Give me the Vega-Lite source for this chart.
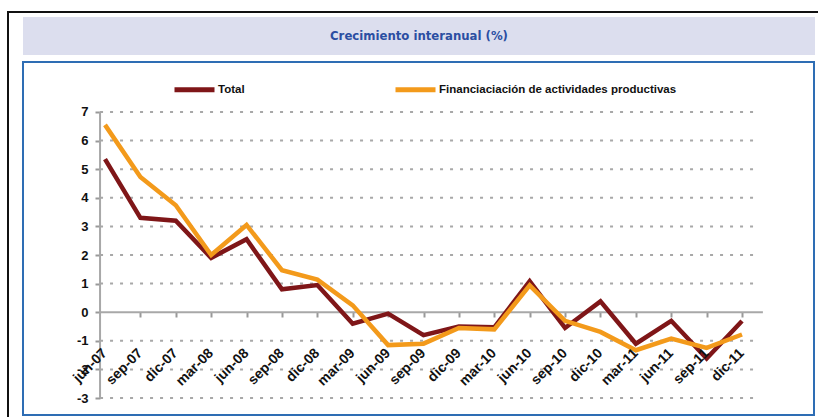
{
  "$schema": "https://vega.github.io/schema/vega-lite/v6.json",
  "padding": {"left": 7, "top": 11, "right": 0, "bottom": 0},
  "background": "white",
  "config": {
    "view": {"stroke": null},
    "font": "Liberation Sans",
    "axis": {"ticks": true, "tickSize": 5, "tickWidth": 2, "tickColor": "#999999", "domain": false, "grid": false, "title": null, "labelOverlap": false, "labelSeparation": 0},
    "axisY": {"labelFont": "Liberation Sans", "labelFontWeight": "bold", "labelFontSize": 13, "labelColor": "#111111", "labelPadding": 7}
  },
  "datasets": {
    "main": [
      {"period": "jun-07", "idx": 0, "serie": "Total", "v": 5.35},
      {"period": "sep-07", "idx": 1, "serie": "Total", "v": 3.3},
      {"period": "dic-07", "idx": 2, "serie": "Total", "v": 3.2},
      {"period": "mar-08", "idx": 3, "serie": "Total", "v": 1.9},
      {"period": "jun-08", "idx": 4, "serie": "Total", "v": 2.55},
      {"period": "sep-08", "idx": 5, "serie": "Total", "v": 0.8},
      {"period": "dic-08", "idx": 6, "serie": "Total", "v": 0.95},
      {"period": "mar-09", "idx": 7, "serie": "Total", "v": -0.4},
      {"period": "jun-09", "idx": 8, "serie": "Total", "v": -0.05},
      {"period": "sep-09", "idx": 9, "serie": "Total", "v": -0.8},
      {"period": "dic-09", "idx": 10, "serie": "Total", "v": -0.5},
      {"period": "mar-10", "idx": 11, "serie": "Total", "v": -0.53},
      {"period": "jun-10", "idx": 12, "serie": "Total", "v": 1.08},
      {"period": "sep-10", "idx": 13, "serie": "Total", "v": -0.55},
      {"period": "dic-10", "idx": 14, "serie": "Total", "v": 0.38},
      {"period": "mar-11", "idx": 15, "serie": "Total", "v": -1.1},
      {"period": "jun-11", "idx": 16, "serie": "Total", "v": -0.3},
      {"period": "sep-11", "idx": 17, "serie": "Total", "v": -1.62},
      {"period": "dic-11", "idx": 18, "serie": "Total", "v": -0.31},
      {"period": "jun-07", "idx": 0, "serie": "Financiaciación de actividades productivas", "v": 6.55},
      {"period": "sep-07", "idx": 1, "serie": "Financiaciación de actividades productivas", "v": 4.73},
      {"period": "dic-07", "idx": 2, "serie": "Financiaciación de actividades productivas", "v": 3.74},
      {"period": "mar-08", "idx": 3, "serie": "Financiaciación de actividades productivas", "v": 2.0},
      {"period": "jun-08", "idx": 4, "serie": "Financiaciación de actividades productivas", "v": 3.05},
      {"period": "sep-08", "idx": 5, "serie": "Financiaciación de actividades productivas", "v": 1.47},
      {"period": "dic-08", "idx": 6, "serie": "Financiaciación de actividades productivas", "v": 1.14},
      {"period": "mar-09", "idx": 7, "serie": "Financiaciación de actividades productivas", "v": 0.24},
      {"period": "jun-09", "idx": 8, "serie": "Financiaciación de actividades productivas", "v": -1.15},
      {"period": "sep-09", "idx": 9, "serie": "Financiaciación de actividades productivas", "v": -1.1},
      {"period": "dic-09", "idx": 10, "serie": "Financiaciación de actividades productivas", "v": -0.55},
      {"period": "mar-10", "idx": 11, "serie": "Financiaciación de actividades productivas", "v": -0.6},
      {"period": "jun-10", "idx": 12, "serie": "Financiaciación de actividades productivas", "v": 0.94},
      {"period": "sep-10", "idx": 13, "serie": "Financiaciación de actividades productivas", "v": -0.3},
      {"period": "dic-10", "idx": 14, "serie": "Financiaciación de actividades productivas", "v": -0.69},
      {"period": "mar-11", "idx": 15, "serie": "Financiaciación de actividades productivas", "v": -1.33},
      {"period": "jun-11", "idx": 16, "serie": "Financiaciación de actividades productivas", "v": -0.92},
      {"period": "sep-11", "idx": 17, "serie": "Financiaciación de actividades productivas", "v": -1.25},
      {"period": "dic-11", "idx": 18, "serie": "Financiaciación de actividades productivas", "v": -0.78}
    ],
    "grid": [
      {"g": -3}, {"g": -2}, {"g": -1}, {"g": 1}, {"g": 2},
      {"g": 3}, {"g": 4}, {"g": 5}, {"g": 6}, {"g": 7}
    ],
    "title": [{"t": "Crecimiento interanual (%)"}],
    "one": [{"b": 0}],
    "none": []
  },
  "vconcat": [
    {
      "width": 811,
      "height": 2,
      "view": {"fill": "#111111", "stroke": null},
      "data": {"name": "none"},
      "mark": "point"
    },
    {
      "hconcat": [
        {
          "width": 2,
          "height": 404,
          "view": {"fill": "#111111", "stroke": null},
          "data": {"name": "none"},
          "mark": "point"
        },
        {
          "vconcat": [
            {
              "width": 791,
              "height": 1,
              "data": {"name": "none"},
              "mark": "point"
            },
            {
              "vconcat": [
                {
                  "width": 792,
                  "height": 38,
                  "view": {"fill": "#DCDEEE", "stroke": null},
                  "data": {"name": "title"},
                  "mark": {"type": "text", "font": "Liberation Sans Narrow, DejaVu Sans Condensed, Liberation Sans, sans-serif", "fontWeight": "bold", "fontSize": 13, "color": "#2B4EA2"},
                  "encoding": {"text": {"field": "t"}}
                },
                {
                  "width": 791,
                  "height": 353,
                  "view": {"fill": "white", "stroke": "#2E6DB4", "strokeWidth": 2},
                  "resolve": {"axis": {"x": "independent", "y": "independent"}},
                  "layer": [
                    {
                      "data": {"name": "grid"},
                      "mark": {"type": "rule", "color": "#A8A8A8", "strokeWidth": 2, "strokeDash": [3, 7]},
                      "encoding": {
                        "y": {"field": "g", "type": "quantitative", "axis": null},
                        "x": {"datum": -0.14, "type": "quantitative", "axis": null},
                        "x2": {"datum": 18.45}
                      }
                    },
                    {
                      "data": {"name": "one"},
                      "mark": {"type": "rule", "color": "#A8A8A8", "strokeWidth": 2},
                      "encoding": {
                        "y": {"datum": 0, "type": "quantitative", "axis": null},
                        "x": {"datum": -0.14, "type": "quantitative", "axis": null},
                        "x2": {"datum": 18.59}
                      }
                    },
                    {
                      "data": {"name": "one"},
                      "mark": {"type": "rule", "color": "#A8A8A8", "strokeWidth": 2},
                      "encoding": {
                        "x": {"datum": -0.14, "type": "quantitative", "axis": null},
                        "y": {"datum": -3, "type": "quantitative", "axis": null},
                        "y2": {"datum": 7}
                      }
                    },
                    {
                      "data": {"name": "main"},
                      "mark": {"type": "line", "strokeWidth": 4.5, "strokeJoin": "miter"},
                      "encoding": {
                        "x": {
                          "field": "idx", "type": "quantitative",
                          "scale": {"domain": [-2.317, 20.034], "nice": false, "zero": false},
                          "axis": {"orient": "bottom", "offset": -103, "values": [1,2,3,4,5,6,7,8,9,10,11,12,13,14,15,16,17,18], "labels": false}
                        },
                        "y": {
                          "field": "v", "type": "quantitative",
                          "scale": {"domain": [-3.594, 8.748], "nice": false, "zero": false},
                          "axis": {"orient": "left", "offset": -77, "values": [-3,-2,-1,0,1,2,3,4,5,6,7], "labelExpr": "'' + datum.value"}
                        },
                        "color": {
                          "field": "serie", "type": "nominal",
                          "scale": {"domain": ["Total", "Financiaciación de actividades productivas"], "range": ["#7F1618", "#F39A1B"]},
                          "legend": {"orient": "none", "legendX": 165, "legendY": 56, "direction": "horizontal", "title": null, "symbolType": "stroke", "symbolSize": 1600, "symbolStrokeWidth": 5, "labelFont": "Liberation Sans", "labelFontWeight": "bold", "labelFontSize": 11.5, "labelColor": "#111111", "columnPadding": 140, "labelOffset": 1, "labelLimit": 400, "padding": 0}
                        },
                        "order": {"field": "idx"}
                      }
                    },
                    {
                      "data": {"name": "main"},
                      "transform": [{"filter": "datum.serie === 'Total'"}],
                      "mark": {"type": "text", "angle": -45, "align": "right", "baseline": "middle", "font": "Liberation Sans", "fontWeight": "bold", "fontSize": 14, "color": "#111111", "yOffset": 39},
                      "encoding": {
                        "x": {"field": "idx", "type": "quantitative", "axis": null},
                        "y": {"datum": 0, "type": "quantitative", "axis": null},
                        "text": {"field": "period"}
                      }
                    }
                  ]
                }
              ],
              "spacing": 7,
              "bounds": "flush"
            }
          ],
          "spacing": 3,
          "bounds": "flush"
        }
      ],
      "spacing": 14,
      "bounds": "flush"
    }
  ],
  "spacing": 0,
  "bounds": "flush"
}
